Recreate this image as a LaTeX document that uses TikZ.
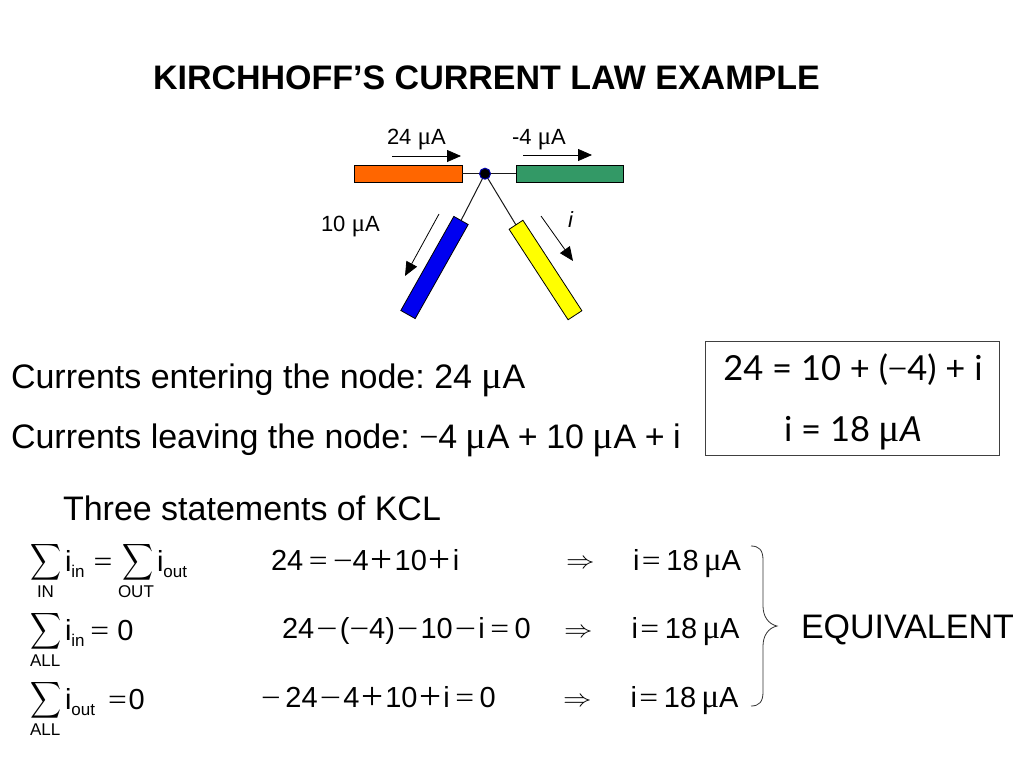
\documentclass[tikz,border=0pt]{standalone}
\usepackage{fontspec}
\setmainfont{Liberation Sans}
\newfontfamily\symf{Liberation Serif}
\newfontfamily\boxf{Lato}
\usetikzlibrary{arrows.meta}
\frenchspacing
\newcommand{\um}{\scalebox{1.15}{\symf μ}}
\newcommand{\mn}{\scalebox{1.2}[1]{\symf −}}
\newcommand{\eqg}{\scalebox{1.15}[1]{\symf =}}
\newcommand{\eqs}{\hspace{.19em}\eqg\hspace{.19em}}
\newcommand{\eqt}{\hspace{.08em}\eqg\hspace{.2em}}
\newcommand{\pls}{\hspace{.065em}\raisebox{-.1em}{\scalebox{1.35}{\symf +}}\hspace{.065em}}
\newcommand{\mns}{\hspace{.075em}\scalebox{1.3}[1]{\symf −}\hspace{.075em}}
\newcommand{\gp}{\hspace{.25em}}
\newcommand{\sumsign}{\raisebox{-6.35pt}[15pt][15pt]{\scalebox{2.15}[2.55]{$\displaystyle\sum$}}}
\newcommand{\impl}{\scalebox{2.85}[2.4]{$\Rightarrow$}}
\newcommand{\lo}[1]{\raisebox{-.22em}{\fontsize{17}{17}\selectfont #1}}
\definecolor{barorange}{RGB}{255,102,0}
\definecolor{bargreen}{RGB}{51,153,102}
\definecolor{barblue}{RGB}{0,0,240}
\definecolor{baryellow}{RGB}{255,255,0}
\definecolor{dotblue}{RGB}{0,0,170}
\tikzset{
  txt/.style={anchor=base west,inner sep=0pt,outer sep=0pt,text=black},
  fs/.style={font=\fontsize{#1}{#1}\selectfont},
  bar/.style={draw=black,line width=.8pt,minimum height=16.5pt,inner sep=0pt},
  wire/.style={draw=black!90,line width=1pt},
  cur/.style={draw=black,line width=.8pt,-{Triangle[length=14pt,width=12pt]}},
  sigma/.style={anchor=center,inner sep=0pt},
  small/.style={txt,fs=17},
  eqn/.style={txt,fs=29},
  boxtxt/.style={anchor=base,inner sep=0pt,font=\fontsize{34.5}{34.5}\selectfont\boxf}
}
\begin{document}
\begin{tikzpicture}[x=1pt,y=-1pt]
\useasboundingbox (0,0) rectangle (1024,768);
\fill[white] (0,0) rectangle (1024,768);
\node[txt,font=\fontsize{34}{34}\selectfont\bfseries] (title) at (153,89) {KIRCHHOFF’S CURRENT LAW EXAMPLE};
% circuit
\coordinate (dotc) at (485,173.7);
\coordinate (bluetop) at (461,220.5);
\coordinate (yelltop) at (516,225);
\draw[wire] (dotc) -- (bluetop);
\draw[wire] (dotc) -- (yelltop);
\node[bar,fill=barorange,minimum width=108pt] (orange) at (408,173.7) {};
\node[bar,fill=bargreen,minimum width=107pt] (green) at (569.5,173.7) {};
\node[bar,fill=barblue,minimum width=108pt,rotate=60.6] (blue) at (434.5,267.5) {};
\node[bar,fill=baryellow,minimum width=108pt,rotate=-56.9] (yellow) at (545.5,270) {};
\node[circle,fill=black,draw=dotblue,line width=1pt,minimum size=11pt,inner sep=0pt] (dot) at (dotc) {};
\draw[wire] (dot) -- (orange.east);
\draw[wire] (dot) -- (green.west);
\coordinate (a1s) at (392,156); \coordinate (a1e) at (461,156);
\coordinate (a2s) at (523,155); \coordinate (a2e) at (592,155);
\coordinate (a3s) at (439,214); \coordinate (a3e) at (405,276);
\coordinate (a4s) at (541,216); \coordinate (a4e) at (573,261);
\draw[cur] (a1s) -- (a1e);
\draw[cur] (a2s) -- (a2e);
\draw[cur] (a3s) -- (a3e);
\draw[cur] (a4s) -- (a4e);
\node[txt,fs=22] (l24) at (387,144) {24 \um A};
\node[txt,fs=22] (l4) at (512,144) {-4 \um A};
\node[txt,fs=22] (l10) at (321,231) {10 \um A};
\node[txt,fs=22] (li) at (568,227) {\itshape i};
% statements
\node[txt,fs=34] (enter) at (11,388) {Currents entering the node: 24 \um A};
\node[txt,fs=34] (leave) at (11,448) {Currents leaving the node: {\symf −}4\gp\um A\gp+\gp 10\gp\um A\gp+\gp i};
\node[txt,fs=34] (three) at (63,520) {Three statements of KCL};
% box
\node[draw=black!75,line width=.8pt,minimum width=294pt,minimum height=114pt,inner sep=0pt] (box) at (852,398) {};
\node[boxtxt] (b1) at (853,380) {24 = 10 + ({\symf −}4) + i};
\node[boxtxt] (b2) at (853,441) {i = 18 \um\textit{A}};
% sums
\node[sigma] (s1) at (46,562) {\sumsign};
\node[eqn] (s1a) at (65,571) {i\lo{in}};
\node[eqn] (s1e) at (88,571) {\eqs};
\node[sigma] (s1b) at (138,562) {\sumsign};
\node[eqn] (s1c) at (157,571) {i\lo{out}};
\node[small] (s1l) at (37,597) {IN};
\node[small] (s1m) at (118,597) {OUT};
\node[sigma] (s2) at (46,631) {\sumsign};
\node[eqn] (s2a) at (65,640) {i\lo{in}\hspace{.2em}\eqg\hspace{.28em}0};
\node[small] (s2l) at (30,666) {ALL};
\node[sigma] (s3) at (46,700) {\sumsign};
\node[eqn] (s3a) at (65,709) {i\lo{out}\hspace{.45em}\eqg\hspace{.06em}0};
\node[small] (s3l) at (30,735) {ALL};
% middle equations
\node[eqn] (m1) at (271,570) {24\eqs\mn 4\pls 10\pls i};
\node[eqn] (m2) at (282,638) {24\mns(\mn 4)\mns 10\mns i\eqs 0};
\node[eqn] (m3) at (261,707) {\mn\,24\mns 4\pls 10\pls i\eqs 0};
% implications
\node[txt] (r1) at (566,568) {\impl};
\node[txt] (r2) at (564,637) {\impl};
\node[txt] (r3) at (563,706) {\impl};
\node[eqn] (e1) at (633,570) {i\eqt 18\hspace{.18em}\um A};
\node[eqn] (e2) at (631.5,638) {i\eqt 18\hspace{.18em}\um A};
\node[eqn] (e3) at (630.5,707) {i\eqt 18\hspace{.18em}\um A};
% brace
\coordinate (bt) at (751,546); \coordinate (bm) at (777,626); \coordinate (bb) at (751,706);
\draw[black!80,line width=.8pt] (bt) .. controls (759,546) and (763,550) .. (763,560) -- (763,606) .. controls (763,616) and (768,624) .. (bm) .. controls (768,628) and (763,636) .. (763,646) -- (763,692) .. controls (763,702) and (759,706) .. (bb);
\node[txt,fs=34] (equiv) at (801,638) {EQUIVALENT};
\end{tikzpicture}
\end{document}
